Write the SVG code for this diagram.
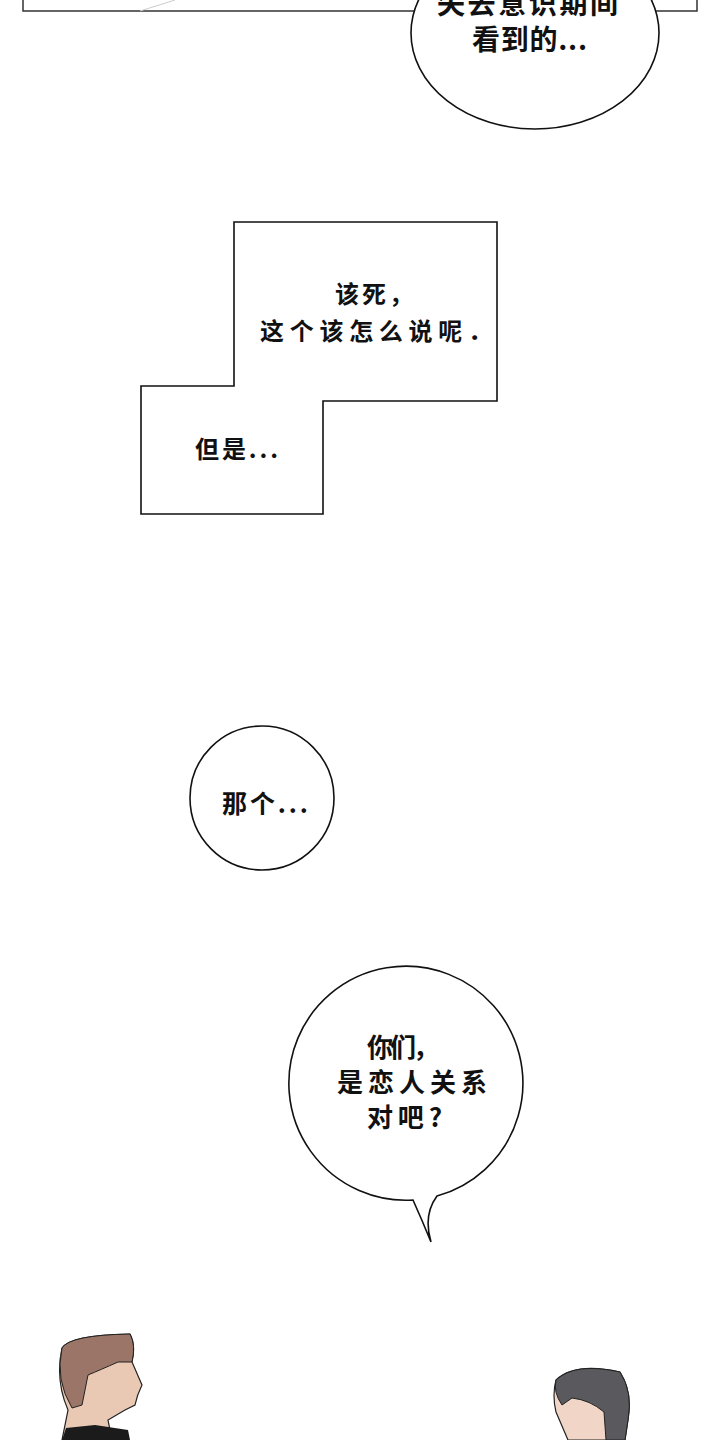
<svg xmlns="http://www.w3.org/2000/svg" width="720" height="1440" viewBox="0 0 720 1440">
<style>
.b{fill:#fff;stroke:#111;stroke-width:1.6}
.t{font-family:"Noto Sans CJK SC","Noto Sans",sans-serif;font-weight:bold;fill:#111}
</style>
<rect width="720" height="1440" fill="#fff"/>
<g id="panel-top"><path d="M23 0V11H697V0" fill="none" stroke="#333" stroke-width="1.5"/>
<path d="M140 11L175 0" stroke="#ccc" stroke-width="1"/></g>
<g id="bubble1"><ellipse class="b" cx="535" cy="33" rx="124" ry="96"/>
<text class="t" x="437" y="14" font-size="28" textLength="181">失去意识期间</text>
<text class="t" x="472" y="50" font-size="28" textLength="115">看到的...</text></g>
<g id="box1"><path class="b" d="M234 222H497V401H323V514H141V386H234Z"/>
<text class="t" x="335" y="303" font-size="24" textLength="78">该死，</text>
<text class="t" x="260" y="340" font-size="24" textLength="232">这个该怎么说呢．</text>
<text class="t" x="195" y="458" font-size="24" textLength="83">但是...</text></g>
<g id="bubble2"><circle class="b" cx="262" cy="798" r="72"/>
<text class="t" x="222" y="813" font-size="25" textLength="86">那个...</text></g>
<g id="bubble3"><path class="b" d="M437 1196A117 117 0 1 0 413 1200Q422 1220 431 1242Q423 1215 437 1196Z"/>
<text class="t" x="367" y="1057" font-size="26" textLength="72">你们，</text>
<text class="t" x="337" y="1092" font-size="26" textLength="150">是恋人关系</text>
<text class="t" x="367" y="1127" font-size="26" textLength="75">对吧?</text></g>
<g id="man-left">
<path d="M62 1348Q70 1335 130 1334Q136 1345 132 1362L142 1385Q137 1395 135 1405L125 1410L108 1420L112 1440H62L68 1410Q55 1380 62 1348Z" fill="#e9c8b4" stroke="#222" stroke-width="1.2"/>
<path d="M62 1348Q70 1335 130 1334Q136 1345 132 1362L118 1362Q100 1370 88 1375L82 1405L72 1408Q55 1380 62 1348Z" fill="#9b7668" stroke="#222" stroke-width="1"/>
<path d="M62 1440L66 1428L95 1425L128 1430L130 1440Z" fill="#1b1b1b"/></g>
<g id="boy-right">
<path d="M556 1380Q575 1362 620 1372Q633 1392 628 1420L625 1440H568L556 1412Q552 1395 556 1380Z" fill="#f1d6c8" stroke="#222" stroke-width="1.2"/>
<path d="M556 1380Q575 1362 620 1372Q633 1392 628 1420L625 1440H606L604 1412Q590 1400 572 1398L562 1405Q553 1392 556 1380Z" fill="#5a5a5e" stroke="#222" stroke-width="1"/></g>
</svg>
